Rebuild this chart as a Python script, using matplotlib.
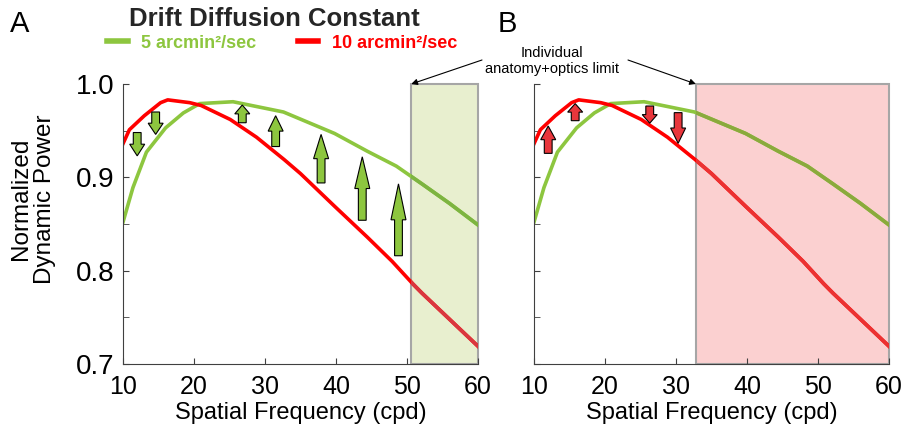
import matplotlib
matplotlib.use("Agg")
import matplotlib.pyplot as plt
from matplotlib.patches import Rectangle, Polygon
from matplotlib.transforms import IdentityTransform

plt.rcParams['font.family'] = ['Liberation Sans', 'DejaVu Sans']

# normalized dynamic power vs spatial frequency, two drift diffusion constants
freq_5 = [10, 11.4, 13.3, 16, 18.5, 20.8, 25.5, 32.6, 39.8, 44.4, 48.5, 52.1, 56, 60]
power_5 = [0.852, 0.889, 0.927, 0.953, 0.969, 0.979, 0.981, 0.970, 0.947, 0.928,
           0.912, 0.893, 0.872, 0.849]
freq_10 = [10, 10.9, 13, 15.3, 16.3, 19.4, 21, 25.1, 28.8, 32.7, 35, 39.8, 44.4,
           47.9, 50.8, 52.1, 60]
power_10 = [0.936, 0.951, 0.966, 0.980, 0.983, 0.980, 0.977, 0.962, 0.943, 0.919,
            0.904, 0.869, 0.836, 0.810, 0.786, 0.776, 0.719]

limit_a = 50.6
limit_b = 32.8

# block arrows: x position, start value, end value
arrow_a_x = [12.0, 14.6, 26.8, 31.5, 37.9, 43.7, 48.8]
arrow_a_from = [0.948, 0.970, 0.9585, 0.933, 0.894, 0.854, 0.816]
arrow_a_to = [0.923, 0.946, 0.9775, 0.966, 0.946, 0.922, 0.893]
arrow_b_x = [12.0, 15.8, 26.3, 30.3]
arrow_b_from = [0.9257, 0.9607, 0.9764, 0.9693]
arrow_b_to = [0.955, 0.979, 0.958, 0.9364]

green = '#8dc63f'
red = '#ff0000'
green_in_green = '#7db441'
red_in_green = '#d9373f'
green_in_red = '#8aaa3c'
red_in_red = '#eb3232'

fig = plt.figure(figsize=(9.05, 4.33), dpi=100)
ax_a = fig.add_axes([123/905, 1-364/433, 355/905, 280/433])
ax_b = fig.add_axes([534/905, 1-364/433, 355/905, 280/433])


def block_arrow(ax, x, y0, y1, fc):
    px, p0 = ax.transData.transform((x, y0))
    _, p1 = ax.transData.transform((x, y1))
    hl = 0.5 * (p1 - p0)
    hw, sw = 7.5, 3.9
    verts = [(px - sw, p0), (px + sw, p0), (px + sw, p1 - hl), (px + hw, p1 - hl),
             (px, p1), (px - hw, p1 - hl), (px - sw, p1 - hl)]
    ax.add_patch(Polygon(verts, closed=True, facecolor=fc, edgecolor='black',
                         lw=0.8, transform=IdentityTransform(), zorder=5))


def panel(ax, limit, shade, muted5, muted10, label_y):
    ax.set_xlim(10, 60)
    ax.set_ylim(0.7, 1.0)
    for s in ['top', 'right']:
        ax.spines[s].set_visible(False)
    for s in ['left', 'bottom']:
        ax.spines[s].set_color('#404040')
    ax.set_xticks([10, 20, 30, 40, 50, 60])
    ax.set_yticks([0.7, 0.8, 0.9, 1.0])
    ax.set_yticks([0.75, 0.85, 0.95], minor=True)
    ax.set_yticklabels(['0.7', '0.8', '0.9', '1.0'])
    ax.tick_params(direction='in', length=4, color='#404040', labelsize=18, pad=8)
    ax.tick_params(axis='y', labelsize=20, labelleft=label_y, pad=6)
    ax.tick_params(axis='y', which='minor', direction='in', length=4, color='#404040')
    ax.set_xlabel('Spatial Frequency (cpd)', fontsize=17, labelpad=2)

    l5, = ax.plot(freq_5, power_5, color=green, lw=2.6, zorder=2)
    l10, = ax.plot(freq_10, power_10, color=red, lw=2.6, zorder=2)
    rect = Rectangle((limit, 0.7), 60 - limit, 0.3, facecolor=shade,
                     edgecolor='#a6a6a6', lw=1.5, zorder=1, clip_on=False)
    ax.add_patch(rect)
    m5, = ax.plot(freq_5, power_5, color=muted5, lw=2.6, zorder=3)
    m5.set_clip_path(rect)
    m10, = ax.plot(freq_10, power_10, color=muted10, lw=2.6, zorder=3)
    m10.set_clip_path(rect)
    return l5, l10


l5, l10 = panel(ax_a, limit_a, '#e8efcf', green_in_green, red_in_green, True)
panel(ax_b, limit_b, '#fbd0d0', green_in_red, red_in_red, False)

fig.canvas.draw()
for x, y0, y1 in zip(arrow_a_x, arrow_a_from, arrow_a_to):
    block_arrow(ax_a, x, y0, y1, green)
for x, y0, y1 in zip(arrow_b_x, arrow_b_from, arrow_b_to):
    block_arrow(ax_b, x, y0, y1, '#e8363c')

fig.text(33/905, 1-199/433, 'Normalized\nDynamic Power', rotation=90, fontsize=17.5,
         ha='center', va='center', multialignment='center', linespacing=1.1)

fig.text(10/905, 1-24/433, 'A', fontsize=21, ha='left', va='center')
fig.text(498/905, 1-24/433, 'B', fontsize=21, ha='left', va='center')
fig.text(274/905, 1-19/433, 'Drift Diffusion Constant', fontsize=18.5,
         fontweight='bold', color='#262626', ha='center', va='center')

leg = fig.legend([l5, l10], ['5 arcmin²/sec', '10 arcmin²/sec'], loc='center',
                 bbox_to_anchor=(282/905, 1-43/433), ncol=2, frameon=False,
                 prop=dict(weight='bold', size=13), handlelength=1.15,
                 handletextpad=0.75, columnspacing=2.3, borderpad=0)
for line in leg.get_lines():
    line.set_linewidth(4)
for txt, c in zip(leg.get_texts(), [green, red]):
    txt.set_color(c)

fig.text(552/905, 1-61/433, 'Individual\nanatomy+optics limit', fontsize=10.5,
         ha='center', va='center', multialignment='center', linespacing=1.15)
arrow_kw = dict(arrowstyle='-|>', color='black', lw=0.8, shrinkA=0, shrinkB=0,
                mutation_scale=9)
ax_a.annotate('', xy=(limit_a, 1.0), xycoords='data',
              xytext=(482/905, 1-60/433), textcoords='figure fraction',
              arrowprops=arrow_kw, annotation_clip=False)
ax_b.annotate('', xy=(limit_b, 1.0), xycoords='data',
              xytext=(628/905, 1-60/433), textcoords='figure fraction',
              arrowprops=arrow_kw, annotation_clip=False)

fig.savefig('out.png', dpi=100)
